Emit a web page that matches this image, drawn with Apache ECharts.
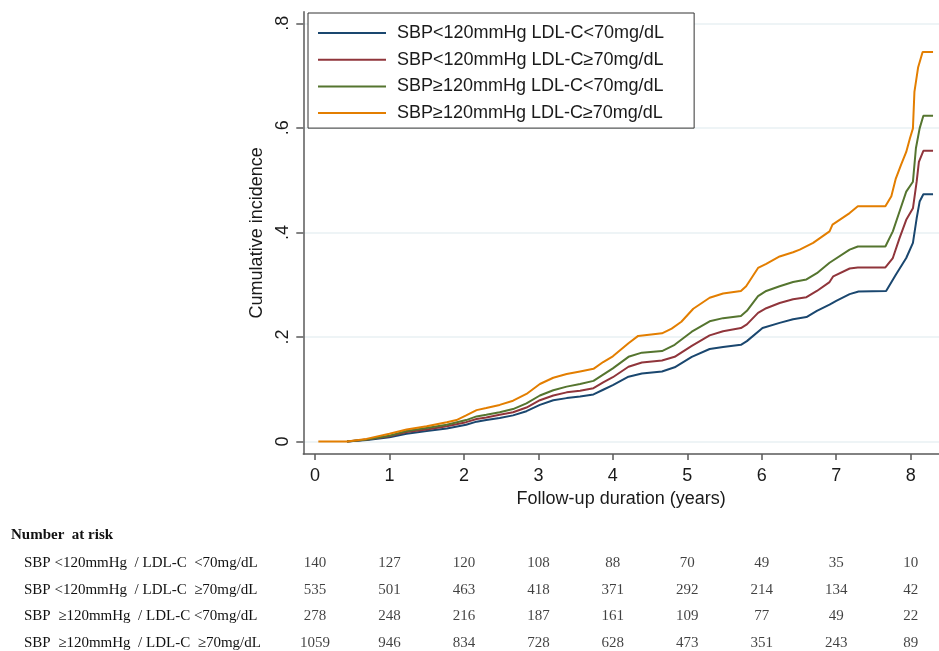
<!DOCTYPE html>
<html>
<head>
<meta charset="utf-8">
<script src="https://cdn.jsdelivr.net/npm/echarts@6/dist/echarts.min.js"></script>
<style>
html,body{margin:0;padding:0;background:#fff;}
#chart{width:939px;height:651px;}
</style>
</head>
<body>
<div id="chart"></div>
<script>
// ---- Data ----
var seriesNames = [
  'SBP<120mmHg LDL-C<70mg/dL',
  'SBP<120mmHg LDL-C\u226570mg/dL',
  'SBP\u2265120mmHg LDL-C<70mg/dL',
  'SBP\u2265120mmHg LDL-C\u226570mg/dL'
];
var seriesColors = ['#1a476f', '#90353b', '#55752f', '#e37e00'];

// [years, cumulative incidence]
var blueCurve = [[0.43,0],[0.7,0.003],[1.0,0.008],[1.23,0.015],[1.5,0.020],[1.77,0.025],[2.03,0.032],[2.17,0.038],[2.3,0.041],[2.48,0.045],[2.66,0.050],[2.84,0.058],[3.02,0.070],[3.2,0.079],[3.38,0.083],[3.56,0.086],[3.74,0.090],[3.87,0.099],[4.0,0.108],[4.21,0.124],[4.39,0.130],[4.66,0.134],[4.83,0.142],[5.06,0.162],[5.3,0.177],[5.48,0.181],[5.72,0.185],[5.8,0.192],[6.01,0.217],[6.24,0.227],[6.42,0.234],[6.6,0.238],[6.74,0.250],[6.91,0.262],[7.0,0.269],[7.18,0.282],[7.3,0.287],[7.67,0.288],[7.8,0.319],[7.94,0.351],[8.03,0.380],[8.08,0.427],[8.12,0.459],[8.17,0.473],[8.3,0.473]];
var redCurve = [[0.43,0],[0.7,0.004],[1.0,0.010],[1.23,0.018],[1.5,0.023],[1.77,0.029],[2.03,0.037],[2.17,0.043],[2.3,0.046],[2.48,0.051],[2.66,0.056],[2.84,0.065],[3.02,0.079],[3.2,0.088],[3.38,0.094],[3.56,0.097],[3.74,0.102],[3.87,0.113],[4.0,0.123],[4.21,0.143],[4.39,0.151],[4.66,0.155],[4.83,0.162],[5.06,0.183],[5.3,0.203],[5.48,0.211],[5.72,0.217],[5.8,0.224],[5.95,0.246],[6.06,0.255],[6.24,0.265],[6.42,0.272],[6.6,0.276],[6.74,0.288],[6.91,0.305],[6.96,0.316],[7.18,0.331],[7.29,0.333],[7.66,0.333],[7.76,0.351],[7.85,0.389],[7.94,0.424],[8.03,0.446],[8.08,0.497],[8.11,0.535],[8.17,0.556],[8.3,0.556]];
var greenCurve = [[0.43,0],[0.7,0.004],[1.0,0.011],[1.23,0.020],[1.5,0.026],[1.77,0.032],[2.03,0.041],[2.17,0.048],[2.3,0.051],[2.48,0.056],[2.66,0.062],[2.84,0.073],[3.02,0.088],[3.2,0.098],[3.38,0.105],[3.56,0.110],[3.74,0.116],[3.87,0.128],[4.0,0.140],[4.21,0.162],[4.39,0.170],[4.66,0.173],[4.83,0.185],[5.06,0.210],[5.3,0.230],[5.48,0.236],[5.72,0.240],[5.8,0.250],[5.95,0.278],[6.06,0.288],[6.24,0.297],[6.42,0.305],[6.6,0.310],[6.74,0.322],[6.91,0.342],[7.18,0.367],[7.29,0.373],[7.66,0.373],[7.76,0.402],[7.85,0.440],[7.94,0.478],[8.03,0.497],[8.07,0.561],[8.12,0.599],[8.17,0.623],[8.3,0.623]];
var orangeCurve = [[0.045,0],[0.43,0],[0.69,0.005],[1.0,0.015],[1.23,0.023],[1.5,0.029],[1.77,0.037],[1.9,0.041],[2.03,0.050],[2.17,0.060],[2.3,0.064],[2.48,0.070],[2.66,0.078],[2.84,0.091],[3.02,0.110],[3.2,0.122],[3.38,0.129],[3.56,0.134],[3.74,0.139],[3.87,0.152],[4.0,0.163],[4.21,0.188],[4.34,0.202],[4.66,0.207],[4.79,0.216],[4.92,0.229],[5.08,0.254],[5.3,0.275],[5.48,0.283],[5.72,0.288],[5.79,0.297],[5.95,0.332],[6.06,0.340],[6.24,0.354],[6.42,0.362],[6.51,0.367],[6.69,0.380],[6.91,0.402],[6.95,0.415],[7.18,0.437],[7.29,0.450],[7.66,0.450],[7.74,0.469],[7.8,0.503],[7.87,0.529],[7.94,0.554],[7.99,0.580],[8.03,0.599],[8.05,0.669],[8.10,0.716],[8.16,0.745],[8.3,0.745]];

var xTicks = [0, 1, 2, 3, 4, 5, 6, 7, 8];
var yTicks = [0, 0.2, 0.4, 0.6, 0.8];
var yTickLabels = ['0', '.2', '.4', '.6', '.8'];

// Number at risk table
var riskTimes = [0, 1, 2, 3, 4, 5, 6, 7, 8];
var riskRowLabels = [
  'SBP <120mmHg  / LDL-C  <70mg/dL',
  'SBP <120mmHg  / LDL-C  \u226570mg/dL',
  'SBP  \u2265120mmHg  / LDL-C <70mg/dL',
  'SBP  \u2265120mmHg  / LDL-C  \u226570mg/dL'
];
var riskRow1 = [140, 127, 120, 108, 88, 70, 49, 35, 10];
var riskRow2 = [535, 501, 463, 418, 371, 292, 214, 134, 42];
var riskRow3 = [278, 248, 216, 187, 161, 109, 77, 49, 22];
var riskRow4 = [1059, 946, 834, 728, 628, 473, 351, 243, 89];

// ---- Build chart ----
var curves = [blueCurve, redCurve, greenCurve, orangeCurve];
var riskRows = [riskRow1, riskRow2, riskRow3, riskRow4];
var rowIndex = riskRowLabels.map(function (_, i) { return i; });
var riskData = [];
riskRows.forEach(function (row, r) {
  row.forEach(function (n, i) {
    riskData.push([riskTimes[i], r, n]);
  });
});

var sans = "'Liberation Sans', Arial, sans-serif";
var serif = "'Liberation Serif', 'Times New Roman', serif";
var axisColor = '#5a5a5a';

var xMin = -0.157, xMax = 8.38;

var series = curves.map(function (c, i) {
  return {
    name: seriesNames[i],
    type: 'line',
    data: c,
    symbol: 'none',
    lineStyle: { width: 2, color: seriesColors[i] },
    itemStyle: { color: seriesColors[i] },
    xAxisIndex: 0,
    yAxisIndex: 0,
    z: 3
  };
});
series.push({
  name: 'risk',
  type: 'scatter',
  xAxisIndex: 1,
  yAxisIndex: 1,
  data: riskData,
  symbolSize: 1,
  itemStyle: { color: 'rgba(0,0,0,0)' },
  label: {
    show: true,
    position: 'inside',
    formatter: function (p) { return String(p.value[2]); },
    color: '#111',
    fontSize: 15,
    fontFamily: serif
  }
});

var option = {
  animation: false,
  backgroundColor: '#ffffff',
  title: {
    text: 'Number  at risk',
    left: 11,
    top: 528,
    padding: 0,
    textStyle: { fontSize: 15, fontWeight: 'bold', fontFamily: serif, color: '#111' }
  },
  legend: {
    data: seriesNames.map(function (n) { return { name: n, icon: 'rect' }; }),
    orient: 'vertical',
    left: 308,
    top: 13,
    padding: [11, 30, 6, 10],
    itemWidth: 68,
    itemHeight: 2,
    itemGap: 8.7,
    borderColor: '#333',
    borderWidth: 1,
    backgroundColor: '#fff',
    textStyle: { fontSize: 18, fontFamily: sans, color: '#1a1a1a', padding: [0, 0, 0, 6] }
  },
  grid: [
    { left: 303.3, right: 0, top: 11.7, bottom: 197, containLabel: false },
    { left: 303.3, right: 0, top: 520, bottom: 0, containLabel: false }
  ],
  xAxis: [
    {
      type: 'value',
      gridIndex: 0,
      min: xMin,
      max: xMax,
      name: 'Follow-up duration (years)',
      nameLocation: 'middle',
      nameGap: 31,
      nameTextStyle: { fontSize: 18, fontFamily: sans, color: '#1a1a1a' },
      axisLine: { show: true, onZero: false, lineStyle: { color: axisColor, width: 1.5 } },
      axisTick: { show: true, inside: false, length: 6, customValues: xTicks, lineStyle: { color: axisColor, width: 1.5 } },
      axisLabel: { customValues: xTicks, margin: 13, fontSize: 18, fontFamily: sans, color: '#1a1a1a' },
      splitLine: { show: false }
    },
    {
      type: 'value',
      gridIndex: 1,
      min: xMin,
      max: xMax,
      show: false
    }
  ],
  yAxis: [
    {
      type: 'value',
      gridIndex: 0,
      min: -0.0239,
      max: 0.8222,
      name: 'Cumulative incidence',
      nameLocation: 'middle',
      nameGap: 33,
      nameTextStyle: { fontSize: 18, fontFamily: sans, color: '#1a1a1a' },
      axisLine: { show: true, onZero: false, lineStyle: { color: axisColor, width: 1.5 } },
      axisTick: { show: true, length: 7, customValues: yTicks, lineStyle: { color: axisColor, width: 1.5 } },
      axisLabel: {
        customValues: yTicks,
        rotate: 90,
        margin: 11,
        fontSize: 18,
        fontFamily: sans,
        color: '#1a1a1a',
        formatter: function (v) {
          for (var i = 0; i < yTicks.length; i++) {
            if (Math.abs(yTicks[i] - v) < 1e-9) return yTickLabels[i];
          }
          return '';
        }
      },
      splitLine: { show: true, lineStyle: { color: '#e8f0f3', width: 1.5 } }
    },
    {
      type: 'value',
      gridIndex: 1,
      inverse: true,
      min: -1.628,
      max: 3.297,
      axisLine: { show: false },
      axisTick: { show: false, customValues: rowIndex },
      splitLine: { show: false },
      axisLabel: {
        customValues: rowIndex,
        align: 'left',
        margin: 279.3,
        fontSize: 15,
        fontFamily: serif,
        color: '#111',
        formatter: function (v) { return riskRowLabels[Math.round(v)] || ''; }
      }
    }
  ],
  series: series
};

var chart = echarts.init(document.getElementById('chart'), null, { renderer: 'canvas' });
chart.setOption(option);
</script>
</body>
</html>
